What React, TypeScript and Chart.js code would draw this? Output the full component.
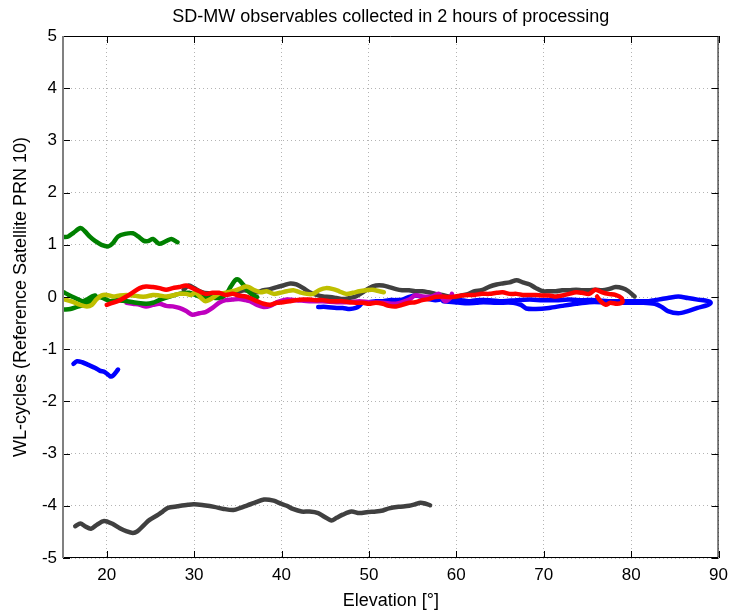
import React, { useEffect, useRef } from "react";
import { Chart, registerables } from "chart.js";

Chart.register(...registerables);

// ---------- Axis ticks ----------
const xTickValues = [20, 30, 40, 50, 60, 70, 80, 90];
const xTickLabels = ["20", "30", "40", "50", "60", "70", "80", "90"];
const yTickValues = [-5, -4, -3, -2, -1, 0, 1, 2, 3, 4, 5];
const yTickLabels = ["-5", "-4", "-3", "-2", "-1", "0", "1", "2", "3", "4", "5"];

const titleText = "SD-MW observables collected in 2 hours of processing";
const xAxisTitle = "Elevation [°]";
const yAxisTitle = "WL-cycles (Reference Satellite PRN 10)";

// ---------- Series (elevation in deg, WL-cycles) ----------
const grayLowX = [16.4, 17.0, 17.5, 18.2, 18.9, 19.7, 20.6, 21.5, 22.3, 23.0, 23.5, 24.2, 24.9, 25.9, 26.4, 27.0, 28.1, 29.3, 30.0, 31.1, 32.3, 33.4, 34.5, 35.3, 36.1, 36.8, 38.0, 39.1, 39.8, 40.6, 41.3, 42.3, 43.2, 44.2, 44.9, 45.7, 46.3, 47.0, 48.0, 48.9, 49.9, 50.8, 51.6, 52.3, 53.4, 54.6, 55.3, 55.9, 56.5, 57.0];
const grayLowY = [-4.39, -4.34, -4.39, -4.44, -4.36, -4.29, -4.34, -4.43, -4.49, -4.52, -4.49, -4.38, -4.27, -4.17, -4.11, -4.04, -4.01, -3.98, -3.97, -3.99, -4.02, -4.06, -4.08, -4.04, -3.99, -3.95, -3.88, -3.9, -3.95, -4.0, -4.06, -4.11, -4.11, -4.14, -4.21, -4.28, -4.23, -4.17, -4.11, -4.14, -4.12, -4.11, -4.09, -4.05, -4.02, -4.0, -3.97, -3.94, -3.96, -3.99];

const greenHighX = [15.1, 15.6, 16.2, 17.0, 17.5, 18.1, 18.7, 19.4, 20.2, 20.7, 21.3, 22.1, 23.0, 23.6, 24.2, 24.7, 25.3, 26.0, 26.8, 27.4, 28.1];
const greenHighY = [1.15, 1.16, 1.23, 1.32, 1.26, 1.15, 1.07, 1.0, 0.97, 1.03, 1.16, 1.21, 1.22, 1.16, 1.08, 1.07, 1.11, 1.02, 1.07, 1.11, 1.05];

const blueLowX = [16.2, 16.6, 17.2, 17.9, 18.7, 19.2, 19.8, 20.4, 20.7, 21.3];
const blueLowY = [-1.28, -1.23, -1.25, -1.3, -1.36, -1.41, -1.44, -1.52, -1.51, -1.39];

const greenAX = [15.08, 15.84, 16.6, 17.35, 17.9, 18.5, 19.05, 19.6, 20.4, 21.1, 22.3, 23.4, 24.5, 25.3, 26.0, 27.2, 28.3, 29.45, 30.6, 31.7, 32.8, 33.6, 34.2, 34.7, 35.1, 35.6, 36.1, 36.6, 37.2];
const greenAY = [-0.24, -0.23, -0.19, -0.15, -0.11, -0.04, 0.0, -0.02, -0.08, -0.06, -0.08, -0.11, -0.13, -0.11, -0.06, 0.01, 0.06, 0.08, 0.01, 0.0, -0.02, 0.04, 0.2, 0.32, 0.33, 0.24, 0.13, 0.05, 0.0];

const greenBX = [15.08, 15.65, 16.4, 17.2, 17.7, 18.3, 18.7];
const greenBY = [0.09, 0.04, -0.02, -0.08, -0.05, 0.01, 0.03];

const yellowX = [15.0, 15.46, 16.2, 16.97, 17.73, 18.3, 18.86, 19.43, 20.0, 20.75, 21.5, 22.26, 23.0, 23.78, 24.5, 25.3, 26.0, 26.8, 27.55, 28.3, 29.1, 29.6, 30.2, 30.8, 31.3, 32.1, 32.8, 33.6, 34.4, 35.1, 35.9, 36.25, 36.8, 37.6, 38.3, 39.1, 39.8, 40.6, 41.35, 42.1, 42.9, 43.6, 44.4, 45.1, 45.9, 46.6, 47.4, 48.15, 48.9, 49.7, 50.4, 51.2, 51.7];
const yellowY = [-0.04, -0.06, -0.1, -0.15, -0.18, -0.15, -0.04, 0.03, 0.04, 0.01, 0.03, 0.04, 0.03, 0.01, 0.01, 0.04, 0.03, 0.01, 0.03, 0.06, 0.06, 0.04, 0.08, -0.02, -0.08, -0.02, 0.06, 0.08, 0.11, 0.15, 0.2, 0.19, 0.14, 0.09, 0.11, 0.06, 0.08, 0.11, 0.13, 0.09, 0.06, 0.06, 0.14, 0.17, 0.15, 0.11, 0.06, 0.08, 0.11, 0.13, 0.14, 0.11, 0.09];

const redX = [20.0, 20.75, 21.5, 22.26, 23.0, 23.78, 24.5, 25.3, 26.05, 26.8, 27.55, 28.3, 29.1, 29.8, 30.6, 31.3, 32.1, 32.85, 33.6, 34.4, 35.1, 35.9, 36.4, 37.2, 37.95, 38.7, 39.5, 40.2, 41.0, 41.7, 42.5, 43.2, 44.0, 44.75, 45.5, 46.3, 47.0, 47.8, 48.5, 49.3, 50.0, 50.8, 51.6, 52.3, 53.1, 53.8, 54.6, 55.3, 56.1, 56.8, 57.6, 58.4, 59.1, 59.9, 60.6, 61.4, 62.1, 62.9, 63.8, 64.6, 65.3, 66.1, 66.9, 67.6, 68.4, 69.1, 69.9, 70.6, 71.4, 72.1, 72.9, 73.7, 74.4, 75.2, 75.9, 76.7, 77.4, 78.2, 78.9, 79.0, 78.4, 77.6, 77.1, 76.5, 76.1];
const redY = [-0.15, -0.11, -0.06, 0.01, 0.09, 0.17, 0.2, 0.19, 0.17, 0.14, 0.17, 0.19, 0.22, 0.17, 0.11, 0.06, 0.08, 0.08, 0.04, 0.06, 0.03, 0.01, -0.02, -0.08, -0.13, -0.15, -0.11, -0.1, -0.08, -0.06, -0.05, -0.05, -0.06, -0.06, -0.08, -0.08, -0.08, -0.1, -0.11, -0.11, -0.13, -0.11, -0.13, -0.17, -0.18, -0.15, -0.11, -0.1, -0.06, -0.04, 0.0, 0.01, 0.0, 0.01, 0.03, 0.04, 0.04, 0.06, 0.06, 0.08, 0.09, 0.06, 0.06, 0.04, 0.04, 0.04, 0.03, 0.03, 0.01, 0.03, 0.06, 0.09, 0.08, 0.06, 0.14, 0.09, 0.06, 0.04, -0.02, -0.1, -0.13, -0.11, -0.15, -0.08, 0.01];

const grayX = [28.8, 29.4, 30.0, 30.8, 31.6, 32.5, 33.4, 34.3, 35.0, 35.7, 36.4, 37.2, 37.95, 38.7, 39.5, 40.2, 41.0, 41.7, 42.5, 43.2, 44.0, 44.75, 45.5, 46.3, 47.0, 47.8, 48.5, 49.3, 50.0, 50.8, 51.6, 52.3, 53.1, 53.8, 54.6, 55.3, 56.1, 56.8, 57.6, 58.4, 59.1, 59.9, 60.6, 61.4, 62.1, 62.9, 63.8, 64.6, 65.3, 66.1, 66.9, 67.6, 68.4, 69.1, 69.9, 70.6, 71.4, 72.1, 72.9, 73.7, 74.4, 75.2, 75.9, 76.7, 77.4, 78.2, 79.0, 79.7, 80.4];
const grayY = [0.14, 0.22, 0.17, 0.1, 0.07, 0.07, 0.05, 0.06, 0.09, 0.13, 0.11, 0.09, 0.13, 0.15, 0.19, 0.22, 0.26, 0.24, 0.17, 0.09, 0.04, 0.01, 0.0, -0.02, -0.04, -0.02, 0.01, 0.09, 0.17, 0.22, 0.22, 0.19, 0.15, 0.13, 0.13, 0.11, 0.11, 0.09, 0.06, 0.04, 0.01, 0.0, 0.03, 0.06, 0.11, 0.13, 0.2, 0.24, 0.26, 0.28, 0.32, 0.28, 0.24, 0.17, 0.11, 0.11, 0.11, 0.13, 0.13, 0.14, 0.13, 0.13, 0.14, 0.13, 0.15, 0.19, 0.17, 0.11, 0.01];

const magentaX = [22.27, 23.0, 23.8, 24.5, 25.3, 26.05, 26.8, 27.55, 28.3, 29.1, 29.8, 30.6, 31.3, 32.1, 32.85, 33.6, 34.4, 35.1, 35.9, 36.4, 37.2, 37.95, 38.7, 39.5, 40.6, 41.7, 43.2, 44.75, 46.3, 47.8, 48.9, 50.0, 51.6, 53.1, 54.6, 55.3, 56.1, 57.2, 58.0, 58.7, 59.3, 59.5];
const magentaY = [-0.11, -0.13, -0.15, -0.18, -0.15, -0.13, -0.17, -0.18, -0.21, -0.27, -0.34, -0.31, -0.29, -0.21, -0.11, -0.06, -0.05, -0.04, -0.06, -0.08, -0.15, -0.19, -0.17, -0.1, -0.05, -0.06, -0.08, -0.08, -0.1, -0.1, -0.08, -0.1, -0.11, -0.13, -0.05, 0.03, 0.01, 0.01, 0.06, -0.08, -0.02, 0.06];

const blueX = [44.2, 45.1, 46.3, 47.0, 47.8, 48.5, 48.9, 49.3, 50.0, 50.8, 51.6, 52.3, 53.1, 53.8, 54.6, 55.3, 56.1, 56.8, 57.6, 58.4, 59.1, 59.9, 60.6, 61.4, 62.3, 63.8, 65.3, 66.9, 68.4, 69.9, 71.4, 72.9, 74.4, 75.9, 77.4, 79.0, 80.5, 82.0, 82.7, 83.5, 84.2, 85.4, 86.5, 87.6, 88.8, 89.1, 88.8, 87.6, 86.5, 85.4, 84.2, 83.5, 82.7, 81.2, 79.7, 78.2, 76.7, 75.2, 73.7, 72.1, 70.6, 69.1, 68.0, 67.4, 66.5, 64.6, 63.1, 62.3, 61.0, 59.8, 58.5];
const blueY = [-0.19, -0.19, -0.21, -0.21, -0.23, -0.21, -0.17, -0.11, -0.1, -0.08, -0.08, -0.06, -0.06, -0.05, 0.0, 0.03, 0.0, -0.04, -0.06, -0.04, -0.02, -0.04, -0.06, -0.08, -0.06, -0.06, -0.08, -0.06, -0.05, -0.06, -0.06, -0.05, -0.06, -0.06, -0.08, -0.08, -0.08, -0.08, -0.06, -0.04, -0.02, 0.01, -0.02, -0.05, -0.08, -0.11, -0.15, -0.21, -0.27, -0.31, -0.27, -0.19, -0.13, -0.11, -0.11, -0.11, -0.1, -0.1, -0.13, -0.17, -0.21, -0.23, -0.22, -0.15, -0.11, -0.11, -0.1, -0.11, -0.12, -0.1, -0.08];

const FONT = '"Liberation Sans", Arial, Helvetica, sans-serif';

function zip(xs: number[], ys: number[]) {
  return xs.map((x, i) => ({ x, y: ys[i] }));
}

const seriesList = [
  { label: "red", color: "#ff0000", x: redX, y: redY },
  { label: "yellow", color: "#bfbf00", x: yellowX, y: yellowY },
  { label: "greenA", color: "#008000", x: greenAX, y: greenAY },
  { label: "greenB", color: "#008000", x: greenBX, y: greenBY },
  { label: "greenHigh", color: "#008000", x: greenHighX, y: greenHighY },
  { label: "magenta", color: "#bf00bf", x: magentaX, y: magentaY },
  { label: "gray", color: "#404040", x: grayX, y: grayY },
  { label: "grayLow", color: "#404040", x: grayLowX, y: grayLowY },
  { label: "blue", color: "#0000ff", x: blueX, y: blueY },
  { label: "blueLow", color: "#0000ff", x: blueLowX, y: blueLowY },
];

const framePlugin = {
  id: "matlabFrame",
  afterDatasetsDraw(chart: any) {
    const { ctx, chartArea, scales } = chart;
    const { left, right, top, bottom } = chartArea;
    ctx.save();
    ctx.strokeStyle = "#000";
    ctx.lineWidth = 1;
    ctx.beginPath();
    const tl = 7;
    xTickValues.forEach((v) => {
      const px = Math.round(scales.x.getPixelForValue(v)) + 0.5;
      ctx.moveTo(px, bottom);
      ctx.lineTo(px, bottom - tl);
      ctx.moveTo(px, top);
      ctx.lineTo(px, top + tl);
    });
    yTickValues.forEach((v) => {
      const py = Math.round(scales.y.getPixelForValue(v)) + 0.5;
      ctx.moveTo(left, py);
      ctx.lineTo(left + tl, py);
      ctx.moveTo(right, py);
      ctx.lineTo(right - tl, py);
    });
    ctx.stroke();
    ctx.beginPath();
    ctx.moveTo(left, top + 0.5);
    ctx.lineTo(right - 0.5, top + 0.5);
    ctx.lineTo(right - 0.5, bottom - 0.5);
    ctx.lineTo(left, bottom - 0.5);
    ctx.stroke();
    ctx.strokeStyle = "#808080";
    ctx.lineWidth = 2;
    ctx.beginPath();
    ctx.moveTo(left, top);
    ctx.lineTo(left, bottom);
    ctx.stroke();
    ctx.restore();
  },
  afterDraw(chart: any) {
    const { ctx, chartArea } = chart;
    ctx.save();
    ctx.fillStyle = "#000";
    ctx.font = `18px ${FONT}`;
    ctx.textAlign = "center";
    ctx.textBaseline = "middle";
    ctx.fillText(titleText, (chartArea.left + chartArea.right) / 2, 17);
    ctx.restore();
  },
};

export default function App() {
  const canvasRef = useRef<HTMLCanvasElement | null>(null);

  useEffect(() => {
    document.body.style.margin = "0";
    const canvas = canvasRef.current;
    if (!canvas) return;
    const chart = new Chart(canvas, {
      type: "scatter",
      data: {
        datasets: seriesList.map((s) => ({
          label: s.label,
          data: zip(s.x, s.y),
          showLine: true,
          borderColor: s.color,
          backgroundColor: s.color,
          borderWidth: 4.5,
          pointRadius: 0,
          tension: 0.3,
          borderJoinStyle: "round" as const,
          borderCapStyle: "round" as const,
          fill: false,
        })),
      },
      options: {
        animation: false,
        responsive: true,
        maintainAspectRatio: false,
        events: [],
        layout: { padding: { top: 36, right: 11, left: 0, bottom: 0 } },
        plugins: {
          legend: { display: false },
          tooltip: { enabled: false },
          title: { display: false },
        },
        scales: {
          x: {
            type: "linear",
            min: 15,
            max: 90,
            afterBuildTicks: (scale: any) => {
              scale.ticks = xTickValues.map((v) => ({ value: v }));
            },
            afterFit: (scale: any) => {
              scale.height = 54;
            },
            grid: {
              color: "#b4b4b4",
              lineWidth: 1,
              drawTicks: false,
            },
            border: { display: false, dash: [1, 3] },
            ticks: {
              padding: 7,
              color: "#000",
              font: { size: 17, family: FONT },
              callback: (v: any) => {
                const i = xTickValues.indexOf(Number(v));
                return i >= 0 ? xTickLabels[i] : "";
              },
              maxRotation: 0,
              autoSkip: false,
            },
            title: {
              display: true,
              text: xAxisTitle,
              color: "#000",
              font: { size: 18, family: FONT },
              padding: { top: 3, bottom: 0 },
            },
          },
          y: {
            type: "linear",
            min: -5,
            max: 5,
            afterBuildTicks: (scale: any) => {
              scale.ticks = yTickValues.map((v) => ({ value: v }));
            },
            afterFit: (scale: any) => {
              scale.width = 63;
            },
            grid: {
              color: "#b4b4b4",
              lineWidth: 1,
              drawTicks: false,
            },
            border: { display: false, dash: [1, 3] },
            ticks: {
              padding: 6,
              color: "#000",
              font: { size: 17, family: FONT },
              callback: (v: any) => {
                const i = yTickValues.indexOf(Number(v));
                return i >= 0 ? yTickLabels[i] : "";
              },
              autoSkip: false,
            },
            title: {
              display: true,
              text: yAxisTitle,
              color: "#000",
              font: { size: 18, family: FONT },
              padding: { top: 10, bottom: 0 },
            },
          },
        },
      },
      plugins: [framePlugin],
    });
    return () => chart.destroy();
  }, []);

  return (
    <div style={{ width: 735, height: 612, position: "relative", background: "#fff" }}>
      <canvas ref={canvasRef} />
    </div>
  );
}
